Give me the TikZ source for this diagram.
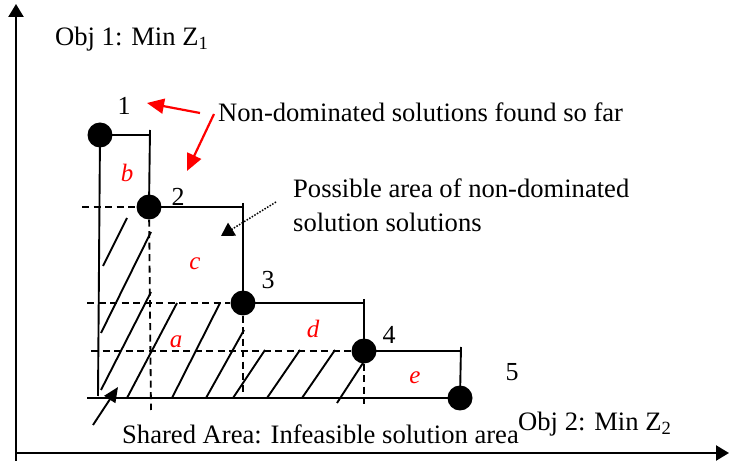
\documentclass[tikz,border=0pt]{standalone}
\usepackage{fontspec}
\setmainfont{Liberation Serif}
\usetikzlibrary{arrows.meta}
\begin{document}
\begin{tikzpicture}[x=1pt,y=-1pt,
  txt/.style={inner sep=0pt, anchor=base west, font=\fontsize{26.6}{32}\selectfont},
  num/.style={inner sep=0pt, font=\fontsize{26}{30}\selectfont},
  lett/.style={inner sep=0pt, text=red, font=\fontsize{25}{28}\selectfont\itshape},
  dot/.style={circle, fill=black, minimum size=25pt, inner sep=0pt},
  stair/.style={line width=1.9pt},
  dashln/.style={line width=1.8pt, dash pattern=on 7pt off 4.5pt},
  hatch/.style={line width=1.9pt},
  axis/.style={line width=2.4pt, -{Triangle[length=13pt,width=15pt]}},
  redarrow/.style={red, line width=2.2pt, -{Triangle[length=17pt,width=15pt]}},
  ptr/.style={line width=1.9pt, -{Triangle[length=15pt,width=13pt]}},
  dotptr/.style={line width=1.5pt, dash pattern=on 1.5pt off 1.5pt, -{Triangle[length=13pt,width=15pt]}},
  ]
\useasboundingbox (0,0) rectangle (729,462);

% axes
\coordinate (o1) at (16,461);
\coordinate (ytop) at (16,4);
\coordinate (o2) at (15,453);
\coordinate (xend) at (729,453);
\draw[axis] (o1) -- (ytop);
\draw[axis] (o2) -- (xend);

% hatching
\foreach \a/\b in {
  {103,266}/{127,218},
  {101,333}/{151,232},
  {101,390}/{151,292},
  {127,398}/{177,303},
  {172,398}/{220,303},
  {206,398}/{244,330},
  {233,398}/{265,350},
  {267,398}/{300,350},
  {302,398}/{335,350},
  {337,403}/{363,363}}
  \draw[hatch] (\a) -- (\b);

% dots
\node[dot] (p1) at (100,135) {};
\node[dot] (p2) at (149,207) {};
\node[dot] (p3) at (243,303) {};
\node[dot] (p4) at (364,351) {};
\node[dot] (p5) at (460,398) {};

% stair corners
\coordinate (c1h) at (150,135);
\coordinate (c1t) at (150,130);
\coordinate (c2h) at (243,207);
\coordinate (c2t) at (243,203);
\coordinate (c3h) at (364,303);
\coordinate (c3t) at (364,299);
\coordinate (c4h) at (461,351);
\coordinate (c4t) at (461,347);
\coordinate (lbot) at (98,396);
\coordinate (bl) at (87,398);

% solid stair lines
\draw[stair] (p1.center) -- (c1h);
\draw[stair] (c1t) -- (p2.center);
\draw[stair] (p2.center) -- (c2h);
\draw[stair] (c2t) -- (p3.center);
\draw[stair] (p3.center) -- (c3h);
\draw[stair] (c3t) -- (p4.center);
\draw[stair] (p4.center) -- (c4h);
\draw[stair] (c4t) -- (p5.center);
\draw[stair] (p1.center) -- (lbot);
\draw[stair] (bl) -- (p5.center);

% dashed lines
\coordinate (d2l) at (82,207);
\coordinate (d2b) at (151,410);
\coordinate (d3l) at (87,303);
\coordinate (d3b) at (243,396);
\coordinate (d4l) at (91,351);
\coordinate (d4b) at (364,404);
\draw[dashln] (d2l) -- (p2);
\draw[dashln] (p2) -- (d2b);
\draw[dashln] (d3l) -- (p3);
\draw[dashln] (p3) -- (d3b);
\draw[dashln] (d4l) -- (p4);
\draw[dashln] (p4) -- (d4b);

% point labels
\node[num] (n1) at (124,106) {1};
\node[num] (n2) at (178,197) {2};
\node[num] (n3) at (268,280) {3};
\node[num] (n4) at (389,335) {4};
\node[num] (n5) at (512,372) {5};

% region letters
\node[lett] (lb) at (127,173) {b};
\node[lett] (lc) at (195,264) {c};
\node[lett] (la) at (176,342) {a};
\node[lett] (ld) at (313,329) {d};
\node[lett] (le) at (415,378) {e};

% texts
\node[txt] (obj1) at (55,46) {Obj 1: Min Z\textsubscript{1}};
\node[txt] (nondom) at (218,122) {Non-dominated solutions found so far};
\node[txt] (poss1) at (293,198) {Possible area of non-dominated};
\node[txt] (poss2) at (293,232) {solution solutions};
\node[txt] (shared) at (122,444) {Shared Area: Infeasible solution area};
\node[txt] (obj2) at (518,431) {Obj 2: Min Z\textsubscript{2}};

% red arrows
\coordinate (r1s) at (200,113);
\coordinate (r1e) at (147,103);
\coordinate (r2s) at (214,114);
\coordinate (r2e) at (187,171);
\draw[redarrow] (r1s) -- (r1e);
\draw[redarrow] (r2s) -- (r2e);

% dotted pointer
\coordinate (dps) at (276,202);
\coordinate (dpe) at (221,236);
\draw[dotptr] (dps) -- (dpe);

% shared area pointer
\coordinate (sps) at (93,425);
\coordinate (spe) at (118,387);
\draw[ptr] (sps) -- (spe);
\end{tikzpicture}
\end{document}
